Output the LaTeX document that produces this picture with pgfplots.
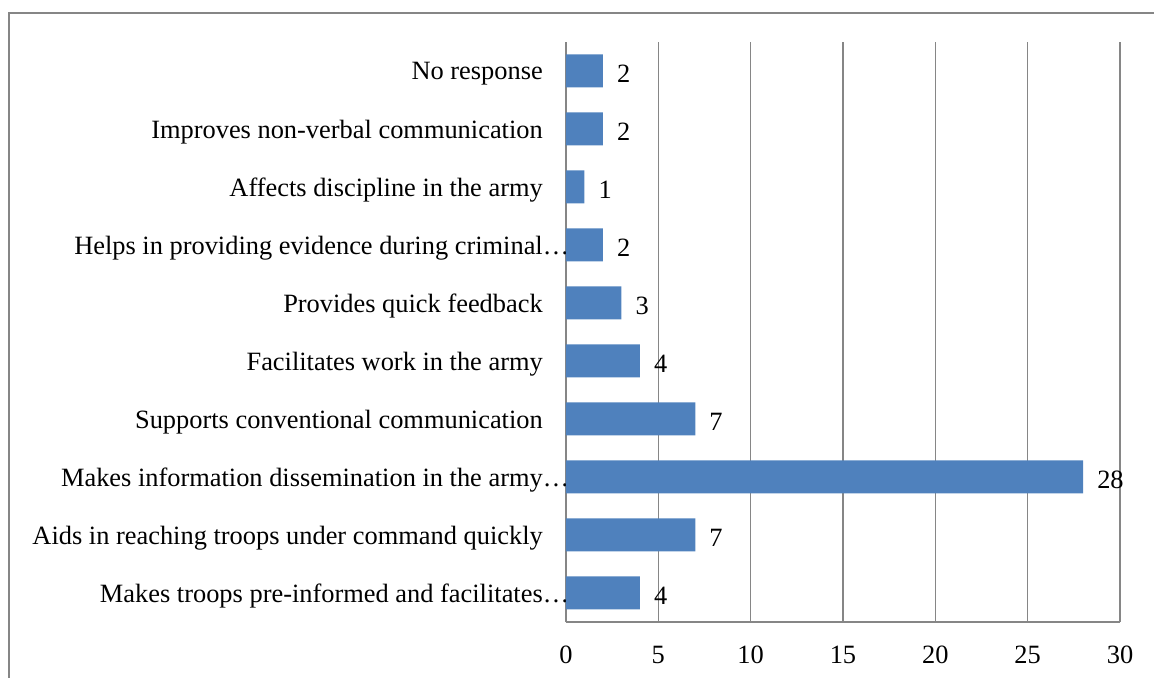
\documentclass[border=0pt]{standalone}
\usepackage{fontspec}
\setmainfont{Liberation Serif}
\usepackage{pgfplots}
\pgfplotsset{compat=1.18}
\definecolor{barblue}{HTML}{4F81BD}
\definecolor{gridgray}{HTML}{868686}
\begin{document}
\begin{tikzpicture}
\clip (-566bp,-56bp) rectangle (588bp,622bp);
% outer chart frame
\draw[gridgray, line width=1.5bp] (-557bp,-120bp) rectangle (720bp,609bp);
\begin{axis}[
  at={(0,0)}, anchor=south west,
  scale only axis, width=554bp, height=580bp,
  xbar, bar width=33bp,
  xmin=0, xmax=30, ymin=0.5, ymax=10.5,
  xtick={0,5,...,30}, ytick={1,...,10},
  yticklabels={
    Makes troops pre-informed and facilitates\rlap{…},
    Aids in reaching troops under command quickly,
    Makes information dissemination in the army\rlap{…},
    Supports conventional communication,
    Facilitates work in the army,
    Provides quick feedback,
    Helps in providing evidence during criminal\rlap{…},
    Affects discipline in the army,
    Improves non-verbal communication,
    No response},
  axis x line*=bottom, axis y line*=left,
  axis line style={gridgray, line width=1.5bp},
  xmajorgrids, grid style={gridgray, line width=1.5bp},
  major tick length=0pt,
  tick label style={font=\fontsize{26.5}{30}\selectfont, text=black},
  yticklabel style={anchor=east, inner sep=0pt, xshift=-23bp, yshift=-3bp},
  xticklabel style={anchor=north, inner sep=0pt, yshift=-24bp},
  /pgf/number format/assume math mode=true,
  nodes near coords,
  point meta=x,
  nodes near coords style={font=\fontsize{26.5}{30}\selectfont, text=black,
    anchor=west, inner sep=0pt, xshift=14bp, yshift=-3bp},
]
\addplot[fill=barblue, draw=none] coordinates {
  (4,1) (7,2) (28,3) (7,4) (4,5) (3,6) (2,7) (1,8) (2,9) (2,10)};
\end{axis}
\end{tikzpicture}
\end{document}
